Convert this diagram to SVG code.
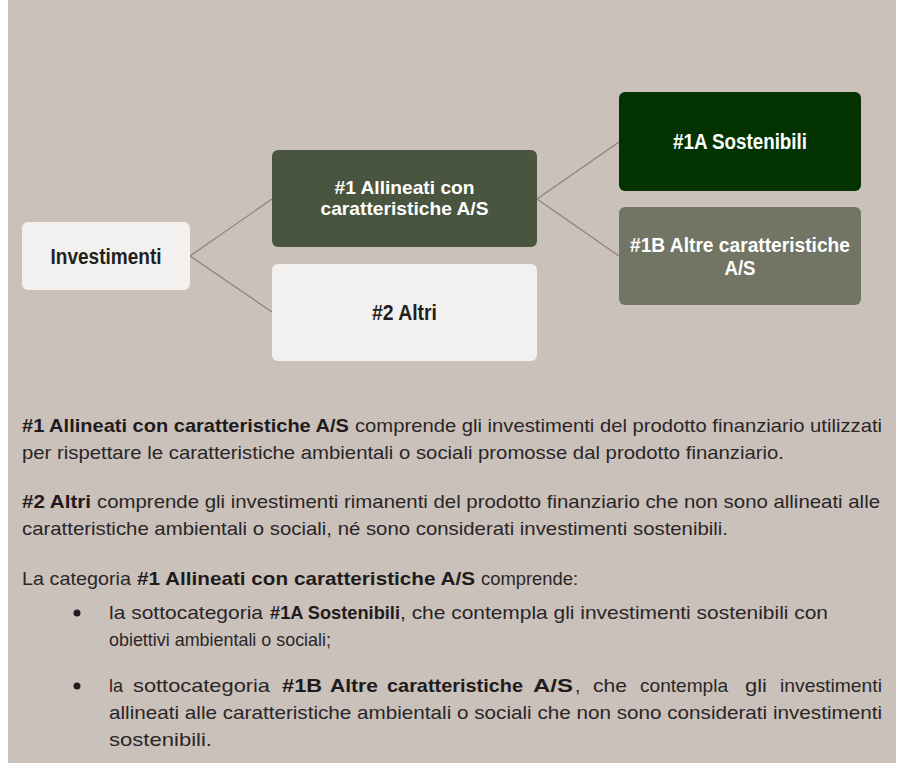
<svg xmlns="http://www.w3.org/2000/svg" width="899" height="763" viewBox="0 0 899 763">
<style>
.nb{font-family:"Liberation Sans",Arial,sans-serif;font-weight:bold;text-anchor:middle}
.dk{fill:#231f20}
.wt{fill:#ffffff}
.b{font-family:"Liberation Sans",Arial,sans-serif;font-size:19px;fill:#2a2627}
.bb{font-weight:bold;fill:#1f1b1c}
.conn{stroke:#8e8279;stroke-width:1.2;fill:none}
</style>
<rect x="0" y="0" width="899" height="763" fill="#ffffff"/>
<rect x="8" y="0" width="888" height="763" fill="#cac1bb"/>
<g id="connectors">
<path class="conn" d="M190,256 L272,199 M190,256 L272,312"/>
<path class="conn" d="M537,199 L619,142 M537,199 L619,256"/>
</g>
<g id="investimenti">
<rect x="22" y="222" width="168" height="68" rx="6" fill="#f3f1ef"/>
<text class="nb dk" x="106" y="264" font-size="22" textLength="111" lengthAdjust="spacingAndGlyphs">Investimenti</text>
</g>
<g id="allineati">
<rect x="272" y="150" width="265" height="97" rx="6" fill="#4a553f"/>
<text class="nb wt" x="404.5" y="194" font-size="18.5" textLength="140" lengthAdjust="spacingAndGlyphs">#1 Allineati con</text>
<text class="nb wt" x="404.5" y="215" font-size="18.5" textLength="168" lengthAdjust="spacingAndGlyphs">caratteristiche A/S</text>
</g>
<g id="altri">
<rect x="272" y="264" width="265" height="97" rx="6" fill="#f3f1ef"/>
<text class="nb dk" x="404.5" y="320" font-size="22" textLength="65" lengthAdjust="spacingAndGlyphs">#2 Altri</text>
</g>
<g id="sostenibili">
<rect x="619" y="92" width="242" height="99" rx="6" fill="#023300"/>
<text class="nb wt" x="740" y="149" font-size="22" textLength="134" lengthAdjust="spacingAndGlyphs">#1A Sostenibili</text>
</g>
<g id="altre">
<rect x="619" y="207" width="242" height="98" rx="6" fill="#727563"/>
<text class="nb wt" x="740" y="252" font-size="20.5" textLength="220" lengthAdjust="spacingAndGlyphs">#1B Altre caratteristiche</text>
<text class="nb wt" x="740" y="275" font-size="20.5" textLength="31" lengthAdjust="spacingAndGlyphs">A/S</text>
</g>
<g id="testo">
<text class="b bb" x="22" y="432" textLength="327" lengthAdjust="spacingAndGlyphs">#1 Allineati con caratteristiche A/S</text>
<text class="b" x="355" y="432" textLength="527" lengthAdjust="spacingAndGlyphs">comprende gli investimenti del prodotto finanziario utilizzati</text>
<text class="b" x="22" y="459" textLength="762" lengthAdjust="spacingAndGlyphs">per rispettare le caratteristiche ambientali o sociali promosse dal prodotto finanziario.</text>
<text class="b bb" x="22" y="508" textLength="69" lengthAdjust="spacingAndGlyphs">#2 Altri</text>
<text class="b" x="97" y="508" textLength="783" lengthAdjust="spacingAndGlyphs">comprende gli investimenti rimanenti del prodotto finanziario che non sono allineati alle</text>
<text class="b" x="22" y="535" textLength="706" lengthAdjust="spacingAndGlyphs">caratteristiche ambientali o sociali, né sono considerati investimenti sostenibili.</text>
<text class="b" x="22" y="585" textLength="109" lengthAdjust="spacingAndGlyphs">La categoria</text>
<text class="b bb" x="137" y="585" textLength="338" lengthAdjust="spacingAndGlyphs">#1 Allineati con caratteristiche A/S</text>
<text class="b" x="481" y="585" textLength="97" lengthAdjust="spacingAndGlyphs">comprende:</text>
<circle cx="77" cy="613" r="3.5" fill="#231f20"/>
<text class="b" x="109" y="619" textLength="154" lengthAdjust="spacingAndGlyphs">la sottocategoria</text>
<text class="b bb" x="270" y="619" textLength="130" lengthAdjust="spacingAndGlyphs">#1A Sostenibili</text>
<text class="b" x="400" y="619" textLength="428" lengthAdjust="spacingAndGlyphs">, che contempla gli investimenti sostenibili con</text>
<text class="b" x="109" y="646" textLength="222" lengthAdjust="spacingAndGlyphs">obiettivi ambientali o sociali;</text>
<circle cx="77" cy="686" r="3.5" fill="#231f20"/>
<text class="b" x="109" y="692" textLength="14" lengthAdjust="spacingAndGlyphs">la</text>
<text class="b" x="133" y="692" textLength="137" lengthAdjust="spacingAndGlyphs">sottocategoria</text>
<text class="b bb" x="282" y="692" textLength="40" lengthAdjust="spacingAndGlyphs">#1B</text>
<text class="b bb" x="330" y="692" textLength="48" lengthAdjust="spacingAndGlyphs">Altre</text>
<text class="b bb" x="387" y="692" textLength="136" lengthAdjust="spacingAndGlyphs">caratteristiche</text>
<text class="b bb" x="533" y="692" textLength="40" lengthAdjust="spacingAndGlyphs">A/S</text>
<text class="b" x="575" y="692">,</text>
<text class="b" x="593" y="692" textLength="34" lengthAdjust="spacingAndGlyphs">che</text>
<text class="b" x="640" y="692" textLength="88" lengthAdjust="spacingAndGlyphs">contempla</text>
<text class="b" x="745" y="692" textLength="22" lengthAdjust="spacingAndGlyphs">gli</text>
<text class="b" x="780" y="692" textLength="102" lengthAdjust="spacingAndGlyphs">investimenti</text>
<text class="b" x="109" y="719" textLength="773" lengthAdjust="spacingAndGlyphs">allineati alle caratteristiche ambientali o sociali che non sono considerati investimenti</text>
<text class="b" x="109" y="746" textLength="103" lengthAdjust="spacingAndGlyphs">sostenibili.</text>
</g>
</svg>
